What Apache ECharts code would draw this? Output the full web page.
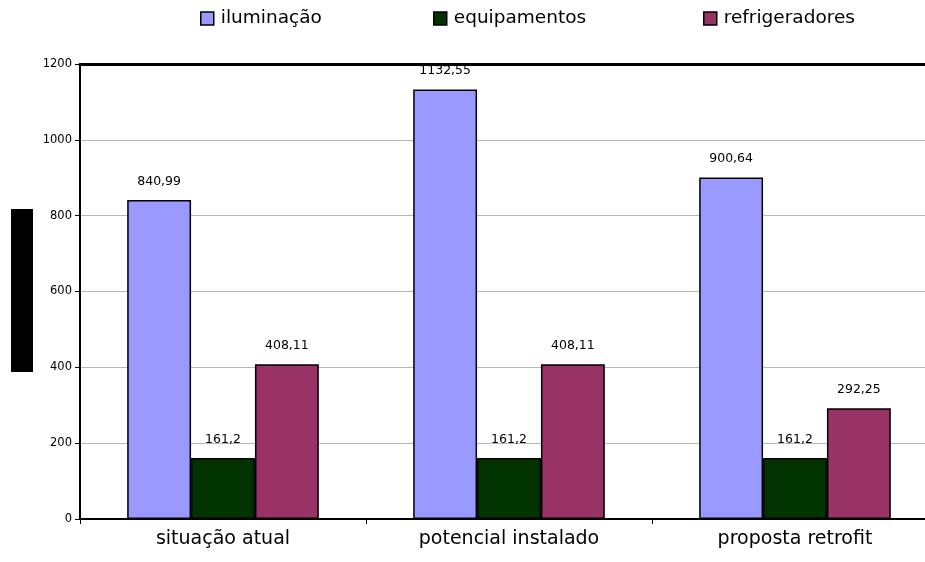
<!DOCTYPE html>
<html>
<head>
<meta charset="utf-8">
<script src="https://cdn.jsdelivr.net/npm/echarts@6/dist/echarts.min.js"></script>
<style>
  html, body { margin: 0; padding: 0; background: #fff; }
  #chart { width: 925px; height: 562px; }
</style>
</head>
<body>
<div id="chart"></div>
<script>
// Consumption by scenario
const categories = ['situação atual', 'potencial instalado', 'proposta retrofit'];
const iluminacao = [840.99, 1132.55, 900.64];
const equipamentos = [161.2, 161.2, 161.2];
const refrigeradores = [408.11, 408.11, 292.25];
const seriesNames = ['iluminação', 'equipamentos', 'refrigeradores'];
const seriesColors = ['#9999FF', '#003300', '#993366'];
const legendLeft = [200, 433, 703];

const fmt = v => String(v).replace('.', ',');
const font = 'DejaVu Sans, Verdana, sans-serif';

function barSeries(name, data, color) {
  return {
    name: name,
    type: 'bar',
    z: 5,
    data: data,
    barGap: '0%',
    barCategoryGap: '33%',
    itemStyle: { color: color, borderColor: '#000', borderWidth: 1.5 },
    label: {
      show: true,
      position: 'top',
      distance: 12,
      fontFamily: font,
      fontSize: 12.5,
      color: '#000',
      formatter: p => fmt(p.value)
    }
  };
}

const legends = seriesNames.map((n, i) => ({
  top: 9,
  left: legendLeft[i],
  padding: 0,
  itemWidth: 13,
  itemHeight: 13,
  itemGap: 0,
  icon: 'rect',
  itemStyle: { borderColor: '#000', borderWidth: 1.5 },
  textStyle: { fontFamily: font, fontSize: 18.5, color: '#000', padding: [0, 0, 0, 2] },
  data: [n]
}));

const chart = echarts.init(document.getElementById('chart'));
chart.setOption({
  animation: false,
  backgroundColor: '#fff',
  legend: legends,
  graphic: [{
    type: 'rect',
    shape: { x: 11, y: 209, width: 22, height: 163 },
    style: { fill: '#000' }
  }],
  grid: { left: 80, top: 64, width: 858, height: 455, containLabel: false, outerBoundsMode: 'none' },
  xAxis: [{
    type: 'category',
    data: categories,
    axisLine: { lineStyle: { color: '#000', width: 2 } },
    axisTick: { show: true, length: 5, lineStyle: { color: '#000', width: 1 } },
    axisLabel: { fontFamily: font, fontSize: 19, color: '#000', margin: 11 }
  }, {
    type: 'category',
    data: categories,
    position: 'top',
    axisLine: { lineStyle: { color: '#000', width: 3 } },
    axisTick: { show: false },
    axisLabel: { show: false }
  }],
  yAxis: {
    type: 'value',
    min: 0,
    max: 1200,
    interval: 200,
    axisLine: { show: true, lineStyle: { color: '#000', width: 2 } },
    axisTick: { show: true, length: 5, lineStyle: { color: '#000', width: 1 } },
    axisLabel: { fontFamily: font, fontSize: 11.5, color: '#000', margin: 8, formatter: v => String(v) },
    splitLine: { lineStyle: { color: '#b8b8b8', width: 1 } }
  },
  series: [
    barSeries(seriesNames[0], iluminacao, seriesColors[0]),
    barSeries(seriesNames[1], equipamentos, seriesColors[1]),
    barSeries(seriesNames[2], refrigeradores, seriesColors[2])
  ]
});
</script>
</body>
</html>
